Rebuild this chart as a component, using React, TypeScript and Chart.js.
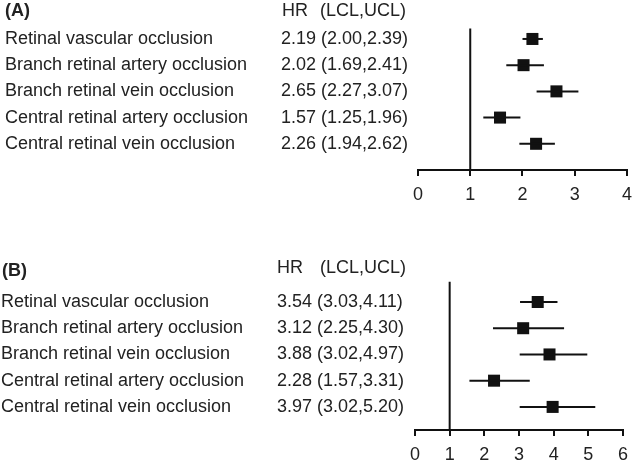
import React, { useEffect, useRef } from "react";
import { Chart, registerables } from "chart.js";

Chart.register(...registerables);

// ---------- data ----------
const outcomes = [
  "Retinal vascular occlusion",
  "Branch retinal artery occlusion",
  "Branch retinal vein occlusion",
  "Central retinal artery occlusion",
  "Central retinal vein occlusion",
];
const hrA = [2.19, 2.02, 2.65, 1.57, 2.26];
const lclA = [2.0, 1.69, 2.27, 1.25, 1.94];
const uclA = [2.39, 2.41, 3.07, 1.96, 2.62];
const hrB = [3.54, 3.12, 3.88, 2.28, 3.97];
const lclB = [3.03, 2.25, 3.02, 1.57, 3.02];
const uclB = [4.11, 4.3, 4.97, 3.31, 5.2];
const ticksA = [0, 1, 2, 3, 4];
const ticksB = [0, 1, 2, 3, 4, 5, 6];
const panelTitles = ["(A)", "(B)"];
const headerHR = "HR";
const headerCI = "(LCL,UCL)";
const refValue = 1;

// ---------- style ----------
const FONT = '"Liberation Sans", Arial, Helvetica, sans-serif';
const TEXT = "#222222";
const INK = "#111111";
const TEXT_SIZE = 18;
const TICK_SIZE = 18;
const CANVAS_W = 640;

type Layout = {
  top: number;
  height: number;
  padTop: number;
  padBottom: number;
  padLeft: number;
  padRight: number;
  yMax: number;
  refTop: number;
  labelX: number;
  valueX: number;
  hrX: number;
  ciX: number;
  titleX: number;
  titleY: number;
  headerY: number;
  tickPad: number;
};

const layoutA: Layout = {
  top: 0,
  height: 230,
  padTop: 12.75,
  padBottom: 16.4,
  padLeft: 418,
  padRight: 13,
  yMax: 6,
  refTop: 0.6,
  labelX: 5,
  valueX: 281,
  hrX: 282,
  ciX: 320,
  titleX: 5,
  titleY: 11,
  headerY: 11,
  tickPad: 8,
};

const layoutB: Layout = {
  top: 225,
  height: 250,
  padTop: 50.75,
  padBottom: 1.4,
  padLeft: 415,
  padRight: 17,
  yMax: 5.88,
  refTop: 0.23,
  labelX: 1,
  valueX: 277,
  hrX: 277,
  ciX: 320,
  titleX: 2,
  titleY: 46,
  headerY: 43,
  tickPad: 8,
};

function fmt(v: number) {
  return v.toFixed(2);
}

function buildConfig(
  title: string,
  hr: number[],
  lcl: number[],
  ucl: number[],
  ticks: number[],
  L: Layout
): any {
  const rows = hr.map((_, i) => i + 1);
  const datasets: any[] = [];
  datasets.push({
    data: [
      { x: refValue, y: L.refTop },
      { x: refValue, y: L.yMax },
    ],
    showLine: true,
    borderColor: INK,
    borderWidth: 2,
    pointRadius: 0,
    clip: false,
  });
  rows.forEach((r, i) => {
    datasets.push({
      data: [
        { x: lcl[i], y: r },
        { x: ucl[i], y: r },
      ],
      showLine: true,
      borderColor: INK,
      borderWidth: 2,
      pointRadius: 0,
      clip: false,
    });
  });
  datasets.push({
    data: rows.map((r, i) => ({ x: hr[i], y: r })),
    showLine: false,
    pointStyle: "rect",
    pointRadius: 8.5,
    pointHoverRadius: 8.5,
    backgroundColor: INK,
    borderColor: INK,
    borderWidth: 0,
    clip: false,
  });

  const textPlugin = {
    id: "forestText",
    afterDraw(chart: any) {
      const ctx = chart.ctx as CanvasRenderingContext2D;
      const y = chart.scales.y;
      ctx.save();
      ctx.fillStyle = TEXT;
      ctx.textAlign = "left";
      ctx.textBaseline = "middle";
      ctx.font = `bold ${TEXT_SIZE}px ${FONT}`;
      ctx.fillText(title, L.titleX, L.titleY);
      ctx.font = `${TEXT_SIZE}px ${FONT}`;
      ctx.fillText(headerHR, L.hrX, L.headerY);
      ctx.fillText(headerCI, L.ciX, L.headerY);
      rows.forEach((r, i) => {
        const py = y.getPixelForValue(r);
        ctx.fillText(outcomes[i], L.labelX, py);
        ctx.fillText(`${fmt(hr[i])} (${fmt(lcl[i])},${fmt(ucl[i])})`, L.valueX, py);
      });
      ctx.restore();
    },
  };

  return {
    type: "scatter",
    data: { datasets },
    plugins: [textPlugin],
    options: {
      animation: false,
      responsive: false,
      devicePixelRatio: 1,
      events: [],
      layout: {
        padding: { top: L.padTop, bottom: L.padBottom, left: L.padLeft, right: L.padRight },
      },
      plugins: {
        legend: { display: false },
        tooltip: { enabled: false },
        title: { display: false },
      },
      scales: {
        x: {
          type: "linear",
          min: ticks[0],
          max: ticks[ticks.length - 1],
          afterBuildTicks: (s: any) => {
            s.ticks = ticks.map((v) => ({ value: v }));
          },
          ticks: {
            color: TEXT,
            font: { family: FONT, size: TICK_SIZE },
            padding: L.tickPad,
            maxRotation: 0,
            autoSkip: false,
          },
          grid: {
            display: true,
            drawOnChartArea: false,
            drawTicks: true,
            tickLength: 6,
            color: INK,
            lineWidth: 2,
          },
          border: { display: true, color: INK, width: 2 },
        },
        y: {
          type: "linear",
          display: false,
          reverse: true,
          min: 0,
          max: L.yMax,
        },
      },
    },
  };
}

function Panel({
  title,
  hr,
  lcl,
  ucl,
  ticks,
  L,
}: {
  title: string;
  hr: number[];
  lcl: number[];
  ucl: number[];
  ticks: number[];
  L: Layout;
}) {
  const ref = useRef<HTMLCanvasElement | null>(null);
  useEffect(() => {
    if (!ref.current) return;
    const chart = new Chart(ref.current, buildConfig(title, hr, lcl, ucl, ticks, L));
    return () => chart.destroy();
  }, []);
  return (
    <canvas
      ref={ref}
      width={CANVAS_W}
      height={L.height}
      style={{ position: "absolute", left: 0, top: L.top, width: CANVAS_W, height: L.height }}
    />
  );
}

export default function App() {
  return (
    <div
      style={{
        position: "absolute",
        left: 0,
        top: 0,
        width: 632,
        height: 461,
        background: "#ffffff",
        overflow: "hidden",
      }}
    >
      <Panel title={panelTitles[0]} hr={hrA} lcl={lclA} ucl={uclA} ticks={ticksA} L={layoutA} />
      <Panel title={panelTitles[1]} hr={hrB} lcl={lclB} ucl={uclB} ticks={ticksB} L={layoutB} />
    </div>
  );
}
